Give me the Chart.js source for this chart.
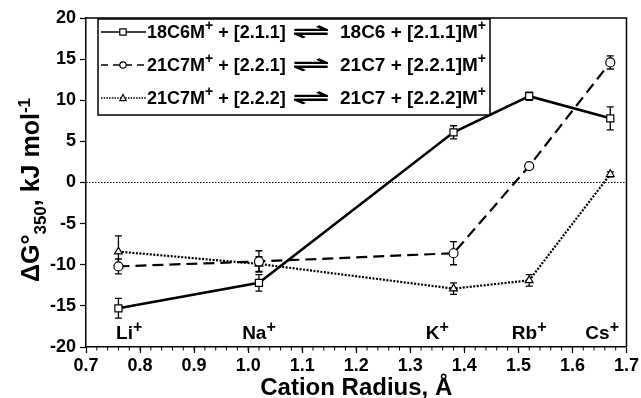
<!DOCTYPE html>
<html>
<head>
<meta charset="utf-8">
<script src="https://cdn.jsdelivr.net/npm/chart.js@4.4.1/dist/chart.umd.min.js"></script>
<style>
  html, body { margin: 0; padding: 0; background: #fff; }
  #wrap { width: 641px; height: 398px; }
</style>
</head>
<body>
<div id="wrap"><canvas id="chart" width="641" height="398"></canvas></div>
<script>
// 양이온 반지름 (Å)
const radius = [0.76, 1.02, 1.38, 1.52, 1.67];
// 이온 라벨과 위치
const ions = ['Li', 'Na', 'K', 'Rb', 'Cs'];
const ionX = [0.78, 1.02, 1.35, 1.52, 1.655];
const ionY = -18;

// ΔG°350 값 (kJ/mol) 과 오차
const dg211 = [-15.3, -12.2, 6.1, 10.5, 7.8];
const err211 = [1.2, 1.0, 0.8, 0.5, 1.4];
const dg221 = [-10.2, -9.6, -8.6, 2.0, 14.6];
const err221 = [0.9, 1.3, 1.4, 0.3, 0.8];
const dg222 = [-8.4, -9.9, -12.9, -11.9, 1.0];
const err222 = [1.9, 0.9, 0.7, 0.7, 0.3];

// 범례 텍스트 (왼쪽 / 오른쪽)
const legendLeft = ['18C6M', '21C7M', '21C7M'];
const legendMid = [' + [2.1.1]', ' + [2.2.1]', ' + [2.2.2]'];
const legendRight = ['18C6 + [2.1.1]M', '21C7 + [2.2.1]M', '21C7 + [2.2.2]M'];

const xTicks = [0.7, 0.8, 0.9, 1.0, 1.1, 1.2, 1.3, 1.4, 1.5, 1.6, 1.7];
const yTicks = [-20, -15, -10, -5, 0, 5, 10, 15, 20];

const FONT = 'Liberation Sans, Arial, Helvetica, sans-serif';

function toPoints(vals) {
    return radius.map((r, i) => ({ x: r, y: vals[i] }));
}

// 위/아래 첨자 텍스트 그리기
function drawRich(ctx, parts, x, y, size, align, ratio) {
    const small = Math.round(size * (ratio || 0.68));
    let total = 0;
    parts.forEach(p => {
        ctx.font = 'bold ' + (p[1] === 'n' ? size : small) + 'px ' + FONT;
        p.w = ctx.measureText(p[0]).width;
        total += p.w;
    });
    let cx = x;
    if (align === 'center') cx = x - total / 2;
    if (align === 'right') cx = x - total;
    ctx.textAlign = 'left';
    parts.forEach(p => {
        ctx.font = 'bold ' + (p[1] === 'n' ? size : small) + 'px ' + FONT;
        let dy = 0;
        if (p[1] === 'sup') dy = -size * 0.36;
        if (p[1] === 'sub') dy = size * 0.28;
        ctx.fillText(p[0], cx, y + dy);
        cx += p.w;
    });
    return total;
}

function drawMarker(ctx, style, x, y, r) {
    ctx.save();
    ctx.fillStyle = '#fff';
    ctx.strokeStyle = '#000';
    ctx.lineWidth = 1.2;
    ctx.setLineDash([]);
    ctx.beginPath();
    if (style === 'rect') {
        ctx.rect(x - r, y - r, r * 2, r * 2);
    } else if (style === 'circle') {
        ctx.arc(x, y, r, 0, Math.PI * 2);
    } else {
        ctx.moveTo(x, y - r * 1.1);
        ctx.lineTo(x + r, y + r * 0.8);
        ctx.lineTo(x - r, y + r * 0.8);
        ctx.closePath();
    }
    ctx.fill();
    ctx.stroke();
    ctx.restore();
}

const seriesStyle = [
    { dash: [], width: 2.6, point: 'rect' },
    { dash: [11, 6], width: 2.2, point: 'circle' },
    { dash: [2, 1.5], width: 2.2, point: 'triangle' }
];

const errorPlugin = {
    id: 'errorBars',
    beforeDatasetsDraw(chart) {
        const { ctx, scales: { x, y } } = chart;
        const sets = [[dg211, err211], [dg221, err221], [dg222, err222]];
        ctx.save();
        ctx.strokeStyle = '#000';
        ctx.lineWidth = 1.3;
        sets.forEach(([vals, errs]) => {
            vals.forEach((v, i) => {
                const px = x.getPixelForValue(radius[i]);
                const top = y.getPixelForValue(v + errs[i]);
                const bot = y.getPixelForValue(v - errs[i]);
                ctx.beginPath();
                ctx.moveTo(px, top); ctx.lineTo(px, bot);
                ctx.moveTo(px - 3.5, top); ctx.lineTo(px + 3.5, top);
                ctx.moveTo(px - 3.5, bot); ctx.lineTo(px + 3.5, bot);
                ctx.stroke();
            });
        });
        // 0 기준 점선
        const y0 = y.getPixelForValue(0);
        ctx.lineWidth = 1;
        ctx.setLineDash([1.5, 1.5]);
        ctx.beginPath();
        ctx.moveTo(x.left, y0); ctx.lineTo(x.right, y0);
        ctx.stroke();
        ctx.restore();
    }
};

const decorPlugin = {
    id: 'decor',
    afterDraw(chart) {
        const { ctx, chartArea: a, scales: { x, y } } = chart;
        ctx.save();
        ctx.fillStyle = '#000';
        ctx.strokeStyle = '#000';

        // 위쪽, 오른쪽 테두리
        ctx.lineWidth = 1.5;
        ctx.beginPath();
        ctx.moveTo(a.left, a.top); ctx.lineTo(a.right, a.top); ctx.lineTo(a.right, a.bottom);
        ctx.stroke();

        // x 보조 눈금
        ctx.lineWidth = 1;
        for (let v = 0.72; v < 1.7; v += 0.02) {
            const px = x.getPixelForValue(v);
            ctx.beginPath();
            ctx.moveTo(px, a.bottom); ctx.lineTo(px, a.bottom + 3.5);
            ctx.stroke();
        }

        // 이온 라벨
        ctx.textBaseline = 'alphabetic';
        ions.forEach((ion, i) => {
            drawRich(ctx, [[ion, 'n'], ['+', 'sup']], x.getPixelForValue(ionX[i]), y.getPixelForValue(ionY) + 8, 19, 'center', 0.85);
        });

        // 축 제목
        drawRich(ctx, [['Cation Radius, Å', 'n']], (a.left + a.right) / 2, 395, 24, 'center');
        ctx.save();
        ctx.translate(39, 190);
        ctx.rotate(-Math.PI / 2);
        drawRich(ctx, [['ΔG°', 'n'], ['350', 'sub'], [', kJ mol', 'n'], ['-1', 'sup']], 0, 0, 25, 'center');
        ctx.restore();

        // 범례
        const bx = 98, by = 19, bw = 392, bh = 96;
        ctx.fillStyle = '#fff';
        ctx.fillRect(bx, by, bw, bh);
        ctx.lineWidth = 1.5;
        ctx.strokeRect(bx, by, bw, bh);
        ctx.fillStyle = '#000';
        const rowY = [32, 65, 98];
        const ls = 18;
        rowY.forEach((ry, i) => {
            const s = seriesStyle[i];
            ctx.save();
            ctx.lineWidth = 1.6;
            ctx.setLineDash(i === 0 ? [] : (i === 1 ? [7, 5] : [1.5, 1.2]));
            ctx.beginPath();
            ctx.moveTo(101, ry); ctx.lineTo(146, ry);
            ctx.stroke();
            ctx.restore();
            drawMarker(ctx, s.point, 123, ry, 3.2);
            ctx.textBaseline = 'middle';
            drawRich(ctx, [[legendLeft[i], 'n'], ['+', 'sup'], [legendMid[i], 'n']], 147, ry + 1, ls, 'left', 0.75);
            // 평형 화살표
            ctx.save();
            ctx.translate(311, ry + 1);
            ctx.scale(2.3, 1);
            ctx.font = 'bold 20px DejaVu Sans, sans-serif';
            ctx.textAlign = 'center';
            ctx.fillText('⇌', 0, 0);
            ctx.restore();
            drawRich(ctx, [[legendRight[i], 'n'], ['+', 'sup']], 486, ry + 1, 19, 'right', 0.75);
        });
        ctx.restore();
    }
};

new Chart(document.getElementById('chart'), {
    type: 'line',
    data: {
        datasets: [dg211, dg221, dg222].map((vals, i) => ({
            data: toPoints(vals),
            borderColor: '#000',
            borderWidth: seriesStyle[i].width,
            borderDash: seriesStyle[i].dash,
            pointStyle: seriesStyle[i].point,
            pointRadius: i === 0 ? 5 : 4.5,
            pointBackgroundColor: '#fff',
            pointBorderColor: '#000',
            pointBorderWidth: 1.2,
            tension: 0,
            fill: false
        }))
    },
    options: {
        responsive: false,
        animation: false,
        layout: { padding: { top: 18, right: 12, left: 0, bottom: 0 } },
        plugins: { legend: { display: false }, tooltip: { enabled: false } },
        scales: {
            x: {
                type: 'linear',
                min: 0.7, max: 1.7,
                afterBuildTicks: s => { s.ticks = xTicks.map(v => ({ value: v })); },
                afterFit: s => { s.height = 51; },
                ticks: {
                    color: '#000',
                    font: { family: FONT, size: 18, weight: 'bold' },
                    padding: 2,
                    maxRotation: 0,
                    callback: v => v.toFixed(1)
                },
                grid: { drawOnChartArea: false, drawTicks: true, tickLength: 6, tickColor: '#000', tickWidth: 1.2 },
                border: { display: true, color: '#000', width: 1.5 }
            },
            y: {
                min: -20, max: 20,
                afterBuildTicks: s => { s.ticks = yTicks.map(v => ({ value: v })); },
                afterFit: s => { s.width = 86; },
                ticks: {
                    color: '#000',
                    font: { family: FONT, size: 18, weight: 'bold' },
                    padding: 4
                },
                grid: { drawOnChartArea: false, drawTicks: true, tickLength: 6, tickColor: '#000', tickWidth: 1.2 },
                border: { display: true, color: '#000', width: 1.5 }
            }
        }
    },
    plugins: [errorPlugin, decorPlugin]
});
</script>
</body>
</html>
